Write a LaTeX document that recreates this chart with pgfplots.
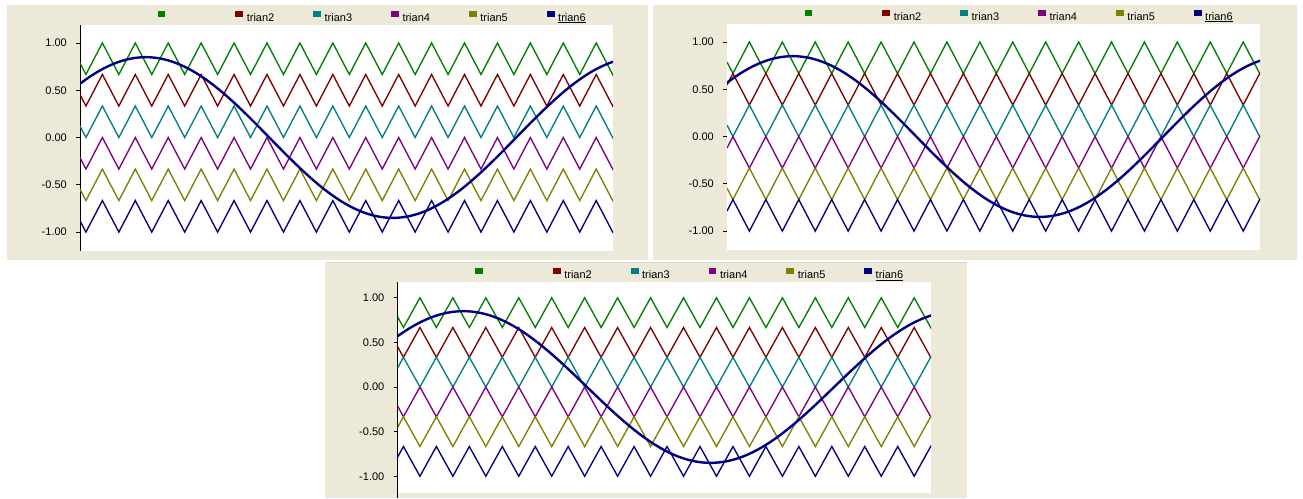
\documentclass[border=0pt]{standalone}
\usepackage{pgfplots}
\pgfplotsset{compat=1.18}
\usepackage{pgfplotstable}
\usepackage{fontspec}
\setmainfont{Liberation Sans}
\definecolor{bg}{HTML}{ECE9D8}
\definecolor{c1}{HTML}{008000}
\definecolor{c2}{HTML}{800000}
\definecolor{c3}{HTML}{008080}
\definecolor{c4}{HTML}{800080}
\definecolor{c5}{HTML}{808000}
\definecolor{c6}{HTML}{000080}

% triangular carriers: A = phase A, B = opposite phase; bands 1..6 from top to bottom
\pgfplotstableread{
t A1 A2 A3 A4 A5 A6 B1 B2 B3 B4 B5 B6
0.00 0.7879 0.4545 0.1212 -0.2121 -0.5455 -0.8788 0.8788 0.5455 0.2121 -0.1212 -0.4545 -0.7879
0.18 0.6667 0.3333 0 -0.3333 -0.6667 -1 1 0.6667 0.3333 0 -0.3333 -0.6667
0.68 1 0.6667 0.3333 0 -0.3333 -0.6667 0.6667 0.3333 0 -0.3333 -0.6667 -1
1.18 0.6667 0.3333 0 -0.3333 -0.6667 -1 1 0.6667 0.3333 0 -0.3333 -0.6667
1.68 1 0.6667 0.3333 0 -0.3333 -0.6667 0.6667 0.3333 0 -0.3333 -0.6667 -1
2.18 0.6667 0.3333 0 -0.3333 -0.6667 -1 1 0.6667 0.3333 0 -0.3333 -0.6667
2.68 1 0.6667 0.3333 0 -0.3333 -0.6667 0.6667 0.3333 0 -0.3333 -0.6667 -1
3.18 0.6667 0.3333 0 -0.3333 -0.6667 -1 1 0.6667 0.3333 0 -0.3333 -0.6667
3.68 1 0.6667 0.3333 0 -0.3333 -0.6667 0.6667 0.3333 0 -0.3333 -0.6667 -1
4.18 0.6667 0.3333 0 -0.3333 -0.6667 -1 1 0.6667 0.3333 0 -0.3333 -0.6667
4.68 1 0.6667 0.3333 0 -0.3333 -0.6667 0.6667 0.3333 0 -0.3333 -0.6667 -1
5.18 0.6667 0.3333 0 -0.3333 -0.6667 -1 1 0.6667 0.3333 0 -0.3333 -0.6667
5.68 1 0.6667 0.3333 0 -0.3333 -0.6667 0.6667 0.3333 0 -0.3333 -0.6667 -1
6.18 0.6667 0.3333 0 -0.3333 -0.6667 -1 1 0.6667 0.3333 0 -0.3333 -0.6667
6.68 1 0.6667 0.3333 0 -0.3333 -0.6667 0.6667 0.3333 0 -0.3333 -0.6667 -1
7.18 0.6667 0.3333 0 -0.3333 -0.6667 -1 1 0.6667 0.3333 0 -0.3333 -0.6667
7.68 1 0.6667 0.3333 0 -0.3333 -0.6667 0.6667 0.3333 0 -0.3333 -0.6667 -1
8.18 0.6667 0.3333 0 -0.3333 -0.6667 -1 1 0.6667 0.3333 0 -0.3333 -0.6667
8.68 1 0.6667 0.3333 0 -0.3333 -0.6667 0.6667 0.3333 0 -0.3333 -0.6667 -1
9.18 0.6667 0.3333 0 -0.3333 -0.6667 -1 1 0.6667 0.3333 0 -0.3333 -0.6667
9.68 1 0.6667 0.3333 0 -0.3333 -0.6667 0.6667 0.3333 0 -0.3333 -0.6667 -1
10.18 0.6667 0.3333 0 -0.3333 -0.6667 -1 1 0.6667 0.3333 0 -0.3333 -0.6667
10.68 1 0.6667 0.3333 0 -0.3333 -0.6667 0.6667 0.3333 0 -0.3333 -0.6667 -1
11.18 0.6667 0.3333 0 -0.3333 -0.6667 -1 1 0.6667 0.3333 0 -0.3333 -0.6667
11.68 1 0.6667 0.3333 0 -0.3333 -0.6667 0.6667 0.3333 0 -0.3333 -0.6667 -1
12.18 0.6667 0.3333 0 -0.3333 -0.6667 -1 1 0.6667 0.3333 0 -0.3333 -0.6667
12.68 1 0.6667 0.3333 0 -0.3333 -0.6667 0.6667 0.3333 0 -0.3333 -0.6667 -1
13.18 0.6667 0.3333 0 -0.3333 -0.6667 -1 1 0.6667 0.3333 0 -0.3333 -0.6667
13.68 1 0.6667 0.3333 0 -0.3333 -0.6667 0.6667 0.3333 0 -0.3333 -0.6667 -1
14.18 0.6667 0.3333 0 -0.3333 -0.6667 -1 1 0.6667 0.3333 0 -0.3333 -0.6667
14.68 1 0.6667 0.3333 0 -0.3333 -0.6667 0.6667 0.3333 0 -0.3333 -0.6667 -1
15.18 0.6667 0.3333 0 -0.3333 -0.6667 -1 1 0.6667 0.3333 0 -0.3333 -0.6667
15.68 1 0.6667 0.3333 0 -0.3333 -0.6667 0.6667 0.3333 0 -0.3333 -0.6667 -1
16.18 0.6667 0.3333 0 -0.3333 -0.6667 -1 1 0.6667 0.3333 0 -0.3333 -0.6667
16.19 0.6734 0.3400 0.0067 -0.3266 -0.6600 -0.9933 0.9933 0.6600 0.3266 -0.0067 -0.3400 -0.6734
}\tri

% modulating signal
\pgfplotstableread{
t s
0.00 0.5688
0.25 0.6317
0.50 0.6877
0.75 0.7361
1.00 0.7765
1.25 0.8084
1.50 0.8314
1.75 0.8453
2.00 0.8500
2.25 0.8453
2.50 0.8314
2.75 0.8084
3.00 0.7765
3.25 0.7361
3.50 0.6877
3.75 0.6317
4.00 0.5688
4.25 0.4996
4.50 0.4250
4.75 0.3457
5.00 0.2627
5.25 0.1767
5.50 0.0889
5.75 0
6.00 -0.0889
6.25 -0.1767
6.50 -0.2627
6.75 -0.3457
7.00 -0.4250
7.25 -0.4996
7.50 -0.5688
7.75 -0.6317
8.00 -0.6877
8.25 -0.7361
8.50 -0.7765
8.75 -0.8084
9.00 -0.8314
9.25 -0.8453
9.50 -0.8500
9.75 -0.8453
10.00 -0.8314
10.25 -0.8084
10.50 -0.7765
10.75 -0.7361
11.00 -0.6877
11.25 -0.6317
11.50 -0.5688
11.75 -0.4996
12.00 -0.4250
12.25 -0.3457
12.50 -0.2627
12.75 -0.1767
13.00 -0.0889
13.25 0
13.50 0.0889
13.75 0.1767
14.00 0.2627
14.25 0.3457
14.50 0.4250
14.75 0.4996
15.00 0.5688
15.25 0.6317
15.50 0.6877
15.75 0.7361
16.00 0.7765
16.19 0.8015
}\sine

\pgfplotsset{
  panel/.style={
    scale only axis, xmin=0, xmax=16.19,
    axis x line=none, axis y line=left,
    y axis line style={-, black, line width=0.8pt},
    axis background/.style={fill=white},
    ytick={-1,-0.5,0,0.5,1},
    yticklabels={-1.00,-0.50,0.00,0.50,1.00},
    tick align=outside, major tick length=4pt,
    tick style={black, line width=0.7pt},
    yticklabel style={font=\fontsize{11}{13}\selectfont, inner sep=0pt, xshift=-9pt},
    legend columns=6,
    legend cell align=left,
    legend image code/.code={\fill[##1] (0pt,1.25pt) rectangle (6.5pt,5.25pt);},
    legend style={draw=none, fill=none, inner sep=0pt, font=\fontsize{11}{13}\selectfont,
      nodes={inner sep=0pt, text depth=0pt},
      /tikz/every odd column/.append style={column sep=3.6pt},
      /tikz/every even column/.append style={column sep=26.4pt},
      at={(rel axis cs:0,1)}, anchor=south west, xshift=77.3pt, yshift=3.7pt},
  },
  tri/.style={line width=1.35pt},
  sin/.style={c6, line width=2.4pt, smooth, forget plot},
}

\newcommand{\lab}[1]{\makebox[40pt][l]{\rule[-2.5pt]{0pt}{10.5pt}#1}}

\begin{document}
\begin{tikzpicture}
\path[use as bounding box] (0,0) rectangle (1303pt,-498pt);
\fill[bg] (7pt,-5pt) rectangle (648pt,-260pt);
\fill[bg] (653pt,-5pt) rectangle (1297pt,-260pt);
\fill[bg] (325pt,-263pt) rectangle (967pt,-498pt);
\draw[color=black!15, line width=1pt] (325pt,-262.5pt) -- (967pt,-262.5pt);

% panel 1
\begin{axis}[panel, at={(80pt,-25pt)}, anchor=north west, width=533pt, height=226pt, ymin=-1.2, ymax=1.19]
\addplot[c1, tri] table[x=t,y=A1]{\tri}; \addlegendentry{\lab{}}
\addplot[c2, tri] table[x=t,y=A2]{\tri}; \addlegendentry{\lab{trian2}}
\addplot[c3, tri] table[x=t,y=A3]{\tri}; \addlegendentry{\lab{trian3}}
\addplot[c4, tri] table[x=t,y=A4]{\tri}; \addlegendentry{\lab{trian4}}
\addplot[c5, tri] table[x=t,y=A5]{\tri}; \addlegendentry{\lab{trian5}}
\addplot[c6, tri] table[x=t,y=A6]{\tri}; \addlegendentry{\lab{\underline{trian6}}}
\addplot[sin] table[x=t,y=s]{\sine};
\end{axis}

% panel 2
\begin{axis}[panel, at={(727pt,-24pt)}, anchor=north west, width=533pt, height=226pt, ymin=-1.2, ymax=1.19,
  y axis line style={draw=none}]
\addplot[c1, tri] table[x=t,y=A1]{\tri}; \addlegendentry{\lab{}}
\addplot[c2, tri] table[x=t,y=B2]{\tri}; \addlegendentry{\lab{trian2}}
\addplot[c3, tri] table[x=t,y=A3]{\tri}; \addlegendentry{\lab{trian3}}
\addplot[c4, tri] table[x=t,y=B4]{\tri}; \addlegendentry{\lab{trian4}}
\addplot[c5, tri] table[x=t,y=A5]{\tri}; \addlegendentry{\lab{trian5}}
\addplot[c6, tri] table[x=t,y=B6]{\tri}; \addlegendentry{\lab{\underline{trian6}}}
\addplot[sin] table[x=t,y=s]{\sine};
\end{axis}

% panel 3
\begin{axis}[panel, at={(397.5pt,-281.7pt)}, anchor=north west, width=533.5pt, height=211.5pt, ymin=-1.19, ymax=1.18,
  y axis line style={shorten <=-5pt}, legend style={yshift=-0.6pt}]
\addplot[c1, tri] table[x=t,y=A1]{\tri}; \addlegendentry{\lab{}}
\addplot[c2, tri] table[x=t,y=A2]{\tri}; \addlegendentry{\lab{trian2}}
\addplot[c3, tri] table[x=t,y=B3]{\tri}; \addlegendentry{\lab{trian3}}
\addplot[c4, tri] table[x=t,y=A4]{\tri}; \addlegendentry{\lab{trian4}}
\addplot[c5, tri] table[x=t,y=B5]{\tri}; \addlegendentry{\lab{trian5}}
\addplot[c6, tri] table[x=t,y=B6]{\tri}; \addlegendentry{\lab{\underline{trian6}}}
\addplot[sin] table[x=t,y=s]{\sine};
\end{axis}
\end{tikzpicture}
\end{document}
